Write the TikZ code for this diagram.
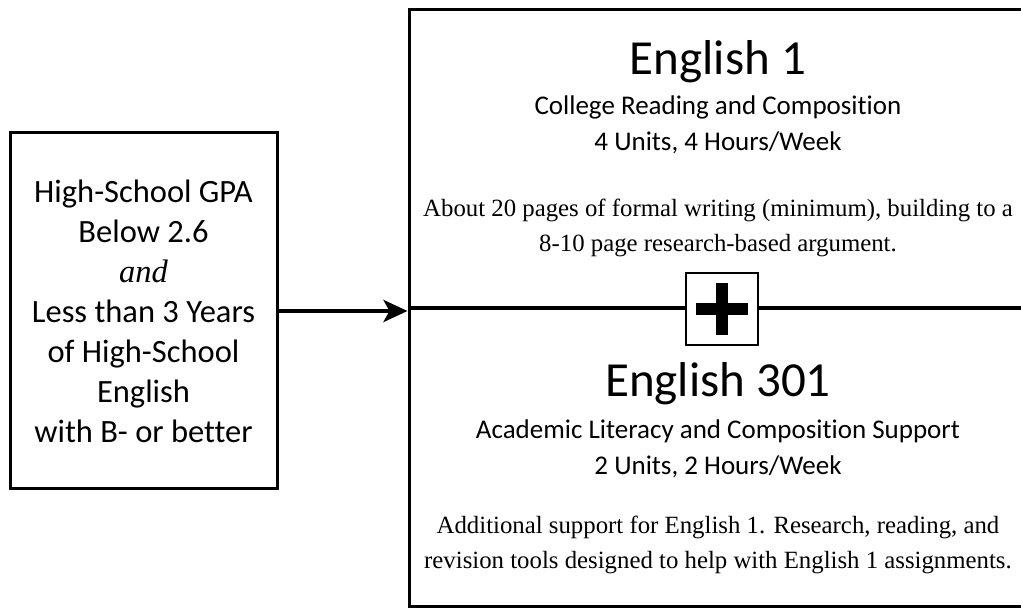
\documentclass[tikz,border=0pt]{standalone}
\usepackage{fontspec}
\setmainfont{Liberation Serif}
\setsansfont[Ligatures=NoCommon]{Carlito}
\usetikzlibrary{arrows.meta}
\usetikzlibrary{positioning}

\tikzset{
	box/.style={draw, line width=3pt, inner sep=0pt},
	title/.style={font=\sffamily\fontsize{49}{56}\selectfont},
	sub/.style={font=\sffamily\fontsize{27}{36}\selectfont, align=center},
	body/.style={font=\fontsize{24.8}{35}\selectfont, align=center},
	arr/.style={line width=4pt, -{Stealth[length=24pt,width=22pt,inset=6pt]}}
}

\begin{document}
\begin{tikzpicture}[x=1pt,y=-1pt]
		\useasboundingbox (0,0) rectangle (1021,609);
		
		% left: who goes here
		\node[box, minimum width=267pt, minimum height=356pt, align=center,
			font=\sffamily\fontsize{32.5}{40}\selectfont] (cond) at (143.5,311)
			{High-School GPA\\Below 2.6\\{\rmfamily\itshape and}\\Less than 3 Years\\of High-School\\English\\with B- or better};
		
		% right: the paired courses
		\node[box, minimum width=618pt, minimum height=596pt] (course) at (718,308) {};
		\draw[line width=3.5pt] (course.west) -- (course.east);
		
		\node[title] (eng1) at (718,62) {English 1};
		\node[sub] (eng1sub) at (718,125) {College Reading and Composition\\4 Units, 4 Hours/Week};
		\node[body] (eng1txt) at (718,228) {About 20 pages of formal writing (minimum), building to a\\8-10 page research-based argument.};
		
		\node[title] (eng301) at (718,384) {English 301};
		\node[sub] (eng301sub) at (718,449) {Academic Literacy and Composition Support\\2 Units, 2 Hours/Week};
		\node[body] (eng301txt) at (718,545) {Additional support for English 1. Research, reading, and\\revision tools designed to help with English 1 assignments.};
		
		% plus sign on the middle line
		\node[draw, line width=2.5pt, fill=white, minimum size=72pt] (plus) at (722,309) {};
		\draw[line width=12pt] ([xshift=-26pt]plus.center) -- ([xshift=26pt]plus.center);
		\draw[line width=12pt] ([yshift=-26pt]plus.center) -- ([yshift=26pt]plus.center);
		
		\draw[arr] (cond.east) -- (course.west |- cond.east);
		\end{tikzpicture}
\end{document}
